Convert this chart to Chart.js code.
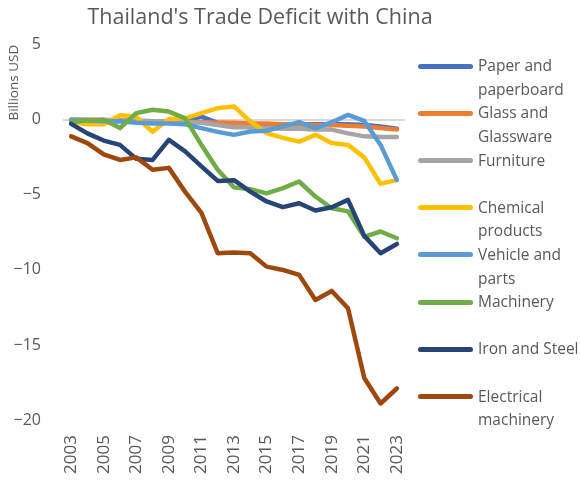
<!DOCTYPE html>
<html>
<head>
<meta charset="utf-8">
<script src="https://cdn.jsdelivr.net/npm/chart.js@4/dist/chart.umd.min.js"></script>
<style>
    html, body { margin: 0; padding: 0; background: #fff; }
    #wrap { position: relative; width: 580px; height: 482px; }
    #legend { position: absolute; left: 0; top: 0; width: 580px; height: 482px; pointer-events: none;
        font-family: "Open Sans", sans-serif; font-size: 15.5px; color: #595959; }
    .swatch { position: absolute; height: 5px; border-radius: 3px; }
    .ltext { position: absolute; line-height: 23.5px; white-space: nowrap; }
</style>
</head>
<body>
<div id="wrap">
    <canvas id="deficitChart" width="580" height="482"></canvas>
    <div id="legend"></div>
</div>
<script>
// Data (billions USD)
const years = ['2003', '2004', '2005', '2006', '2007', '2008', '2009', '2010', '2011', '2012', '2013',
    '2014', '2015', '2016', '2017', '2018', '2019', '2020', '2021', '2022', '2023'];

const paper = [0, -0.05, -0.1, -0.1, -0.1, -0.15, -0.1, -0.05, 0.22, -0.2, -0.25,
    -0.3, -0.3, -0.3, -0.3, -0.3, -0.3, -0.3, -0.35, -0.45, -0.6];
const glass = [0, 0, -0.05, -0.05, -0.1, -0.1, -0.1, -0.15, -0.15, -0.2, -0.2,
    -0.25, -0.25, -0.3, -0.3, -0.35, -0.35, -0.4, -0.45, -0.55, -0.65];
const furniture = [0, 0, 0, -0.05, -0.05, -0.1, -0.1, -0.15, -0.2, -0.35, -0.5,
    -0.5, -0.55, -0.6, -0.6, -0.65, -0.65, -0.9, -1.1, -1.15, -1.15];
const chemical = [-0.15, -0.3, -0.3, 0.3, 0.2, -0.8, 0.05, 0.1, 0.45, 0.78, 0.89,
    -0.1, -0.89, -1.2, -1.45, -1.0, -1.55, -1.67, -2.5, -4.27, -4.0];
const vehicle = [-0.05, -0.05, -0.1, -0.1, -0.2, -0.25, -0.25, -0.3, -0.55, -0.8, -1.0,
    -0.78, -0.73, -0.44, -0.16, -0.55, -0.16, 0.33, -0.07, -1.67, -4.0];
const machinery = [-0.15, -0.05, 0, -0.55, 0.45, 0.67, 0.55, 0.1, -1.67, -3.33, -4.5,
    -4.62, -4.9, -4.55, -4.11, -5.11, -5.89, -6.1, -7.8, -7.44, -7.89];
const ironSteel = [-0.27, -0.9, -1.38, -1.67, -2.6, -2.67, -1.33, -2.1, -3.1, -4.07, -4.02,
    -4.78, -5.44, -5.82, -5.56, -6.04, -5.82, -5.33, -7.73, -8.89, -8.27];
const electrical = [-1.1, -1.55, -2.3, -2.67, -2.5, -3.33, -3.2, -4.8, -6.2, -8.89, -8.84,
    -8.89, -9.78, -10.0, -10.33, -12.0, -11.4, -12.55, -17.2, -18.9, -17.9];

const seriesNames = [
    ['Paper and', 'paperboard'],
    ['Glass and', 'Glassware'],
    ['Furniture'],
    ['Chemical', 'products'],
    ['Vehicle and', 'parts'],
    ['Machinery'],
    ['Iron and Steel'],
    ['Electrical', 'machinery']
];
const seriesData = [paper, glass, furniture, chemical, vehicle, machinery, ironSteel, electrical];
const seriesColors = ['#4472C4', '#ED7D31', '#A5A5A5', '#FFC000', '#5B9BD5', '#70AD47', '#264478', '#9E480E'];
const yTicks = [5, 0, -5, -10, -15, -20];

const textColor = '#595959';
const fontFamily = '"Open Sans", sans-serif';

const datasets = seriesData.map((data, i) => ({
    label: seriesNames[i].join(' '),
    data: data,
    borderColor: seriesColors[i],
    backgroundColor: seriesColors[i],
    borderWidth: 4.5,
    borderCapStyle: 'round',
    borderJoinStyle: 'round',
    pointRadius: 0,
    tension: 0,
    order: seriesData.length - i   // later series drawn on top
}));

const ctx = document.getElementById('deficitChart').getContext('2d');
const chart = new Chart(ctx, {
    type: 'line',
    data: { labels: years, datasets: datasets },
    options: {
        responsive: false,
        animation: false,
        layout: { padding: { left: 0, right: 60, top: 0, bottom: 0 } },
        plugins: {
            legend: { display: false },
            tooltip: { enabled: false },
            title: {
                display: true,
                text: "Thailand's Trade Deficit with China",
                color: textColor,
                font: { family: fontFamily, size: 21.5, weight: 'normal' },
                padding: { top: 5, bottom: 14 }
            }
        },
        scales: {
            x: {
                offset: true,
                grid: { display: false, drawTicks: false },
                border: { display: false },
                ticks: {
                    autoSkip: false,
                    maxRotation: 90,
                    minRotation: 90,
                    padding: 15,
                    color: textColor,
                    font: { family: fontFamily, size: 17 },
                    callback: function(value, index) {
                        return index % 2 === 0 ? this.getLabelForValue(value) : '';
                    }
                },
                afterFit: scale => { scale.height = 62; }
            },
            y: {
                min: Math.min(...yTicks),
                max: Math.max(...yTicks),
                afterBuildTicks: scale => { scale.ticks = yTicks.map(v => ({ value: v })); },
                grid: {
                    drawTicks: false,
                    lineWidth: 2,
                    color: c => (c.tick && c.tick.value === 0) ? '#D9D9D9' : 'rgba(0,0,0,0)'
                },
                border: { display: false },
                ticks: {
                    padding: 22,
                    color: textColor,
                    font: { family: fontFamily, size: 16 },
                    callback: v => (v < 0 ? '\u2212' + Math.abs(v) : String(v))
                },
                title: {
                    display: true,
                    text: 'Billions USD',
                    align: 'end',
                    color: textColor,
                    font: { family: fontFamily, size: 13.5 },
                    padding: { top: 6, bottom: 0 }
                },
                afterFit: scale => { scale.width = 63; }
            },
            // empty right-hand box that keeps room for the legend
            spacer: {
                type: 'linear',
                position: 'right',
                grid: { display: false, drawTicks: false },
                border: { display: false },
                ticks: { display: false },
                afterFit: scale => { scale.width = 115; }
            }
        }
    }
});

// HTML legend built from the chart's datasets
function buildLegend(chart) {
    const box = document.getElementById('legend');
    const area = chart.chartArea;
    const startY = 66;
    const step = 47.2;
    chart.data.datasets.forEach((ds, i) => {
        const cy = startY + i * step;
        const sw = document.createElement('div');
        sw.className = 'swatch';
        sw.style.background = ds.borderColor;
        sw.style.left = (area.right + 13) + 'px';
        sw.style.width = '55px';
        sw.style.top = (cy - 2.5) + 'px';
        box.appendChild(sw);

        const tx = document.createElement('div');
        tx.className = 'ltext';
        tx.style.left = (area.right + 73) + 'px';
        tx.style.top = (cy - 11.75) + 'px';
        tx.innerHTML = seriesNames[i].join('<br>');
        box.appendChild(tx);
    });
}
buildLegend(chart);
</script>
</body>
</html>
